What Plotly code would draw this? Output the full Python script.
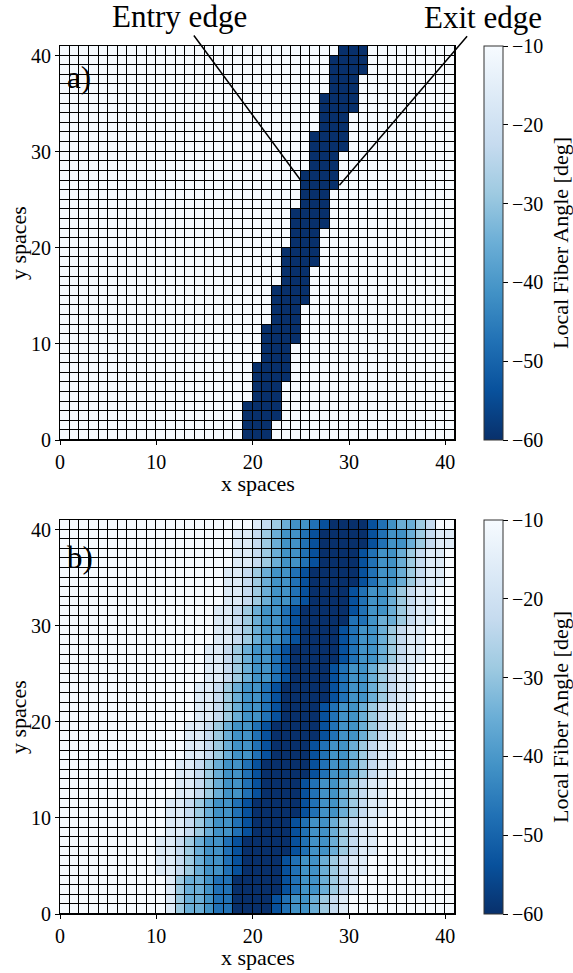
import plotly.graph_objects as go

FONT = "Liberation Serif, Times New Roman, serif"

N = 41
cell_edges = list(range(N + 1))
axis_ticks = [0, 10, 20, 30, 40]
cbar_ticks = [-60, -50, -40, -30, -20, -10]
angle_min, angle_max = -60, -10

# panel a) dark band: first and last column of the band in each row (row 0 .. 40)
band_left = [19, 19, 19, 19, 20, 20, 20, 20, 21, 21, 21, 21, 22, 22, 22, 22,
             23, 23, 23, 23, 24, 24, 24, 24, 25, 25, 25, 25, 26, 26, 26, 26,
             27, 27, 27, 27, 28, 28, 28, 28, 29]
band_right = [21, 21, 22, 22, 22, 22, 23, 23, 23, 23, 24, 24, 24, 24, 25, 25,
              25, 25, 26, 26, 26, 26, 27, 27, 27, 27, 28, 28, 28, 28, 29, 29,
              29, 29, 30, 30, 30, 30, 31, 31, 31]

# panel b) smoothed field: first column and shade levels (0 = -10 deg ... 8 = -60 deg) per row
b_start = [11, 11, 11, 11, 10, 10, 10, 10, 11, 11, 11, 11, 12, 12, 12, 12,
           13, 13, 13, 13, 14, 14, 14, 14, 15, 15, 15, 15, 16, 16, 16, 16,
           17, 17, 17, 17, 18, 18, 18, 18, 20]
b_levels = [
    "1344566888876554321",
    "1344566888876554321",
    "13445668888876554321",
    "13445668888876554321",
    "1123455678888765543211",
    "1123455678888765543211",
    "11234556788888765543211",
    "11234556788888765543211",
    "1123455678888765543211",
    "1123455678888765543211",
    "11234556788888765543211",
    "11234556788888765543211",
    "1123455678888765543211",
    "1123455678888765543211",
    "11234556788888765543211",
    "11234556788888765543211",
    "1123455678888765543211",
    "1123455678888765543211",
    "11234556788888765543211",
    "11234556788888765543211",
    "1123455678888765543211",
    "1123455678888765543211",
    "11234556788888765543211",
    "11234556788888765543211",
    "1123455678888765543211",
    "1123455678888765543211",
    "11234556788888765543211",
    "11234556788888765543211",
    "1123455678888765543211",
    "1123455678888765543211",
    "11234556788888665443211",
    "11234556788888765543211",
    "1123455678888765543211",
    "1123455678888765543211",
    "11234556788888765543211",
    "11234556788888765543211",
    "1123455678888765543211",
    "1123455678888765543211",
    "11234556788888765543211",
    "11234556788888765543211",
    "1234556788887654432",
]

blues = ["#f7fbff", "#deebf7", "#c6dbef", "#9ecae1", "#6baed6",
         "#4292c6", "#2171b5", "#08519c", "#08306b"]
colorscale = [[k / 8, blues[8 - k]] for k in range(9)]

za = [[angle_min if band_left[r] <= c <= band_right[r] else angle_max for c in range(N)]
      for r in range(N)]
zb = []
for r in range(N):
    row = [angle_max] * N
    for i, ch in enumerate(b_levels[r]):
        row[b_start[r] + i] = angle_max + (angle_min - angle_max) * int(ch) / 8
    zb.append(row)

# layout geometry (plot area 60..455 px wide, panels 46..440 and 520..914 px tall)
M_L, M_R, M_T, M_B = 60, 118, 46, 59
W, H = 573, 973
PW, PH = W - M_L - M_R, H - M_T - M_B
dom_a = [(914 - 440) / PH, 1.0]
dom_b = [0.0, (914 - 520) / PH]


def px_x(p):
    return (p - M_L) / PW


def px_y(p):
    return (H - M_B - p) / PH


def heat(z, xa, ya, dom):
    return go.Heatmap(
        z=z, x=cell_edges, y=cell_edges, xaxis=xa, yaxis=ya,
        colorscale=colorscale, zmin=angle_min, zmax=angle_max,
        xgap=1, ygap=1, hoverinfo="skip",
        colorbar=dict(
            x=px_x(484), xanchor="left", y=(dom[0] + dom[1]) / 2, yanchor="middle",
            len=dom[1] - dom[0], lenmode="fraction", thickness=19,
            thicknessmode="pixels", xpad=0, ypad=0,
            outlinewidth=1, outlinecolor="#333333",
            tickvals=cbar_ticks, ticks="outside", ticklen=5, tickwidth=1,
            tickcolor="black",
            tickfont=dict(family=FONT, size=20, color="black"),
        ),
    )


fig = go.Figure()
fig.add_trace(heat(za, "x", "y", dom_a))
fig.add_trace(heat(zb, "x2", "y2", dom_b))

axis_common = dict(
    range=[0, N], tickvals=axis_ticks, ticks="outside", ticklen=4, tickwidth=1,
    tickcolor="black", showline=True, linecolor="black", linewidth=1, mirror=True,
    showgrid=False, zeroline=False, automargin=False,
    tickfont=dict(family=FONT, size=20, color="black"),
)

fig.update_layout(
    width=W, height=H,
    margin=dict(l=M_L, r=M_R, t=M_T, b=M_B),
    paper_bgcolor="white", plot_bgcolor="black",
    showlegend=False,
    xaxis=dict(domain=[0, 1], anchor="y", **axis_common),
    yaxis=dict(domain=dom_a, anchor="x", **axis_common),
    xaxis2=dict(domain=[0, 1], anchor="y2", **axis_common),
    yaxis2=dict(domain=dom_b, anchor="x2", **axis_common),
    font=dict(family=FONT, color="black"),
)

LBL = dict(family=FONT, size=22, color="black")
for dom, xy in ((dom_a, 483), (dom_b, 958)):
    fig.add_annotation(text="x spaces", xref="paper", yref="paper", x=0.5, y=px_y(xy),
                       xanchor="center", yanchor="middle", showarrow=False, font=LBL)
    mid = (dom[0] + dom[1]) / 2
    fig.add_annotation(text="y spaces", xref="paper", yref="paper", x=px_x(18), y=mid,
                       xanchor="center", yanchor="middle", textangle=-90,
                       showarrow=False, font=LBL)
    fig.add_annotation(text="Local Fiber Angle [deg]", xref="paper", yref="paper",
                       x=px_x(560), y=mid, xanchor="center", yanchor="middle",
                       textangle=-90, showarrow=False, font=LBL)

fig.add_annotation(text="a)", xref="x domain", yref="y domain", x=0.012, y=0.92,
                   xanchor="left", yanchor="middle", showarrow=False,
                   font=dict(family=FONT, size=31, color="black"))
fig.add_annotation(text="b)", xref="x2 domain", yref="y2 domain", x=0.012, y=0.905,
                   xanchor="left", yanchor="middle", showarrow=False,
                   font=dict(family=FONT, size=31, color="black"))

fig.add_annotation(text="Entry edge", xref="x", yref="y", x=25, y=27,
                   ax=-121, ay=-164, showarrow=True, arrowhead=0, arrowwidth=1.5,
                   arrowcolor="black", standoff=0,
                   font=dict(family=FONT, size=31, color="black"))
fig.add_annotation(text="Exit edge", xref="x", yref="y", x=29, y=26.5,
                   ax=144, ay=-168, showarrow=True, arrowhead=0, arrowwidth=1.5,
                   arrowcolor="black", standoff=0,
                   font=dict(family=FONT, size=31, color="black"))

fig.write_html("out.html", config={"displayModeBar": False},
               post_script="document.body.style.margin='0px';")
